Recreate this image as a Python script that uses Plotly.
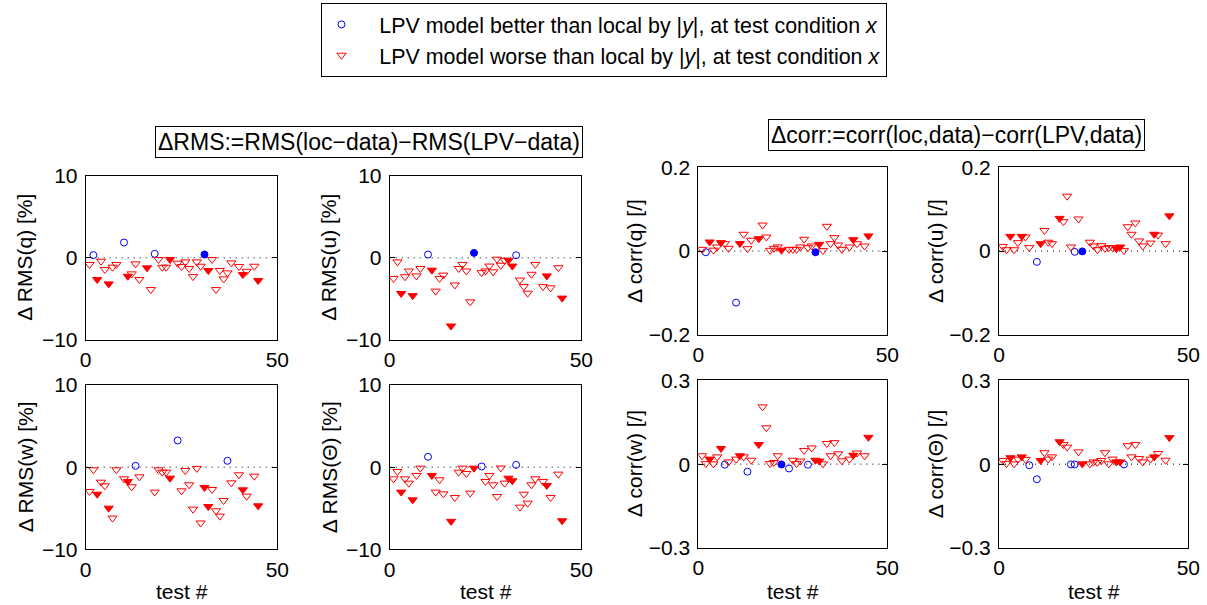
import plotly.graph_objects as go

# ---------------- data ----------------
tests = [1, 2, 3, 4, 5, 6, 7, 8, 10, 11, 12, 13, 14, 16, 17, 18, 19, 20, 21, 22,
         24, 25, 26, 27, 28, 29, 30, 31, 32, 33, 34, 35, 36, 37, 38, 40, 41, 42, 44, 45]
filled_tests = [3, 6, 11, 16, 22, 31, 32, 41, 45]

rms_q = [-0.81, 0.33, -2.64, -0.41, -1.42, -3.17, -1.14, -0.81, 1.87, -2.24, -1.95, -0.73, -2.64,
         -1.22, -3.86, 0.49, -0.2, -1.14, -1.14, -0.2, -0.65, -1.06, -0.49, -1.3, -2.28, -0.49,
         -1.02, 0.41, -1.54, -0.2, -3.86, -1.54, -2.56, -1.83, -0.61, -1.06, -2.03, -1.63, -1.02, -2.76]
rms_u = [-2.5, -0.49, -4.34, -2.3, -1.6, -4.6, -2.2, -1.3, 0.4, -1.5, -4.05, -2.5, -2.1,
         -8.3, -3.3, -1.3, -0.8, -1.6, -5.35, 0.6, -1.8, -1.6, -1.0, -1.7, -0.16, -0.9,
         -0.3, -0.3, -1.0, 0.32, -2.7, -3.5, -4.3, -2.0, -0.8, -3.5, -2.2, -3.65, -1.2, -4.9]
rms_w = [-2.96, -0.32, -3.29, -1.83, -2.27, -4.99, -6.2, -0.32, -1.42, -1.74, -2.39, 0.16, -1.18,
         None, None, -3.04, -0.32, -0.61, -0.61, -1.34, 3.25, -2.88, -0.41, -2.15, -5.11, -0.15,
         -6.8, -2.47, -4.79, -2.72, -5.31, -5.96, -4.06, 0.77, -1.91, -0.93, -2.76, -3.53, -1.1, -4.71]
rms_th = [-1.42, -0.53, -3.04, -1.42, -1.95, -3.98, -1.01, -0.12, 1.26, -1.01, -3.04, -1.54, -3.25,
          -6.6, -3.69, -0.61, -0.12, -0.77, -3.16, -0.12, 0.08, -1.74, -1.01, -2.15, -3.57, -0.1,
          -1.95, -1.34, -1.66, 0.28, -4.87, -3.29, -4.38, -2.15, -1.42, -1.74, -2.23, -3.69, -0.85, -6.53]

corr_q = [0.004, -0.003, 0.0215, 0.002, 0.0096, 0.02, 0.0175, 0.0064, -0.1235, 0.018, 0.04, 0.0056,
          0.0255, 0.0295, 0.062, 0.0335, 0.0016, 0.0064, 0.0096, 0.002, 0.004, 0.004, 0.004, 0.0096,
          0.028, 0.008, 0.012, -0.003, 0.016, 0.001, 0.059, 0.0175, 0.032, 0.0143, 0.004, 0.0096,
          0.027, 0.0175, 0.012, 0.036]
corr_u = [0.011, 0.003, 0.035, 0.003, 0.02, 0.035, 0.0335, 0.008, -0.026, 0.0175, 0.049, 0.021,
          0.0175, 0.078, 0.070, 0.131, 0.0096, -0.002, 0.0765, -0.001, 0.021, 0.012, 0.003, 0.0127,
          0.0064, 0.008, 0.008, 0.0056, 0.0096, 0.001, 0.058, 0.04, 0.067, 0.024, 0.012, 0.019,
          0.04, 0.038, 0.0175, 0.084]
corr_w = [0.030, 0.002, 0.018, 0.001, 0.026, 0.056, -0.002, 0.008, 0.018, 0.030, 0.026, -0.027,
          0.014, 0.070, 0.205, 0.130, 0.002, 0.006, 0.030, -0.001, -0.0155, 0.014, 0.002, 0.011,
          0.049, -0.002, 0.058, 0.014, 0.011, 0.001, 0.074, 0.030, 0.077, 0.037, 0.012, 0.018,
          0.032, 0.040, 0.030, 0.096]
corr_th = [0.013, 0.002, 0.023, 0.001, 0.018, 0.026, 0.017, -0.004, -0.054, 0.013, 0.041, 0.018,
           0.026, 0.080, 0.070, 0.061, -0.001, -0.001, 0.044, 0.001, 0.001, 0.008, 0.006, 0.013,
           0.041, 0.001, 0.018, 0.008, 0.008, -0.001, 0.066, 0.026, 0.070, 0.020, 0.008, 0.018,
           0.026, 0.038, 0.014, 0.095]

x_ticks = [0, 50]
x_range = [0, 50]

panels = [
    # (values, kind, ylabel, yrange, yticks)
    (rms_q, "rms", "Δ RMS(q) [%]", [-10, 10], [-10, 0, 10]),
    (rms_u, "rms", "Δ RMS(u) [%]", [-10, 10], [-10, 0, 10]),
    (rms_w, "rms", "Δ RMS(w) [%]", [-10, 10], [-10, 0, 10]),
    (rms_th, "rms", "Δ RMS(Θ) [%]", [-10, 10], [-10, 0, 10]),
    (corr_q, "corr", "Δ corr(q) [/]", [-0.2, 0.2], [-0.2, 0, 0.2]),
    (corr_u, "corr", "Δ corr(u) [/]", [-0.2, 0.2], [-0.2, 0, 0.2]),
    (corr_w, "corr", "Δ corr(w) [/]", [-0.3, 0.3], [-0.3, 0, 0.3]),
    (corr_th, "corr", "Δ corr(Θ) [/]", [-0.3, 0.3], [-0.3, 0, 0.3]),
]

# ---------------- layout geometry (pixels) ----------------
W, H = 1207, 605
# (left, right, top, bottom) of each axes box in pixels
boxes = [
    (85.7, 277.3, 175.7, 340.0),
    (389.7, 581.3, 175.7, 340.0),
    (85.7, 277.3, 385.0, 549.3),
    (389.7, 581.3, 385.0, 549.3),
    (698.3, 887.3, 167.3, 334.7),
    (999.0, 1188.3, 167.3, 334.7),
    (698.3, 887.3, 380.3, 548.0),
    (999.0, 1188.3, 380.3, 548.0),
]
ylabel_x = [25, 329, 25, 329, 634, 935, 634, 935]
bottom_row = [2, 3, 6, 7]

FONT = "Liberation Sans, Arial, Helvetica, sans-serif"
BLUE = "#0000ff"
RED = "#ff0000"
PAD = "\u00a0\u00a0\u00a0"
better_name = PAD + "LPV model better than local by |<i>y</i>|, at test condition <i>x</i>"
worse_name = PAD + "LPV model worse than local by |<i>y</i>|, at test condition <i>x</i>"

fig = go.Figure()
layout = dict(
    width=W, height=H, autosize=False,
    margin=dict(l=0, r=0, t=0, b=0, pad=0, autoexpand=False),
    paper_bgcolor="white", plot_bgcolor="white",
    font=dict(family=FONT, size=21, color="black"),
    showlegend=True,
)
annotations = []
shapes = []

for i, (vals, kind, ylab, yr, yt) in enumerate(panels):
    n = i + 1
    xa = "x" if n == 1 else f"x{n}"
    ya = "y" if n == 1 else f"y{n}"
    l, r, t, b = boxes[i]

    groups = {("b", False): ([], []), ("b", True): ([], []), ("w", False): ([], []), ("w", True): ([], [])}
    for tnum, v in zip(tests, vals):
        if v is None:
            continue
        better = v > 0 if kind == "rms" else v < 0
        key = ("b" if better else "w", tnum in filled_tests)
        groups[key][0].append(tnum)
        groups[key][1].append(v)

    specs = [
        (("b", False), "circle-open", BLUE, 7, better_name),
        (("b", True), "circle", BLUE, 7, None),
        (("w", False), "triangle-down-open", RED, 8, worse_name),
        (("w", True), "triangle-down", RED, 8, None),
    ]
    for key, sym, col, size, name in specs:
        gx, gy = groups[key]
        fig.add_trace(go.Scatter(
            x=gx, y=gy, mode="markers", xaxis=xa, yaxis=ya,
            marker=dict(symbol=sym, color=col, size=size, line=dict(color=col, width=1)),
            name=name if name else "",
            showlegend=(n == 1 and name is not None),
            hoverinfo="skip", cliponaxis=True,
        ))

    axis_common = dict(
        showline=True, mirror="ticks", linecolor="black", linewidth=1,
        ticks="inside", ticklen=5, tickcolor="black", showgrid=False, zeroline=False,
        automargin=False,
        tickfont=dict(family=FONT, size=21, color="black"),
    )
    layout["xaxis" if n == 1 else f"xaxis{n}"] = dict(
        domain=[l / W, r / W], range=x_range, tickvals=x_ticks,
        anchor=ya, ticklabelstandoff=1, **axis_common)
    layout["yaxis" if n == 1 else f"yaxis{n}"] = dict(
        domain=[1 - b / H, 1 - t / H], range=yr, tickvals=yt,
        anchor=xa, ticklabelstandoff=3, **axis_common)

    # dotted zero line
    shapes.append(dict(type="line", xref=xa, yref=ya, x0=x_range[0], x1=x_range[1], y0=0, y1=0,
                       line=dict(color="black", width=1, dash="1px,5px"), layer="below"))

    # y label
    annotations.append(dict(text=ylab, x=ylabel_x[i] / W, y=1 - (t + b) / 2 / H,
                            xref="paper", yref="paper", textangle=-90, showarrow=False,
                            xanchor="center", yanchor="middle",
                            font=dict(family=FONT, size=21, color="black")))
    if i in bottom_row:
        annotations.append(dict(text="test #", x=(l + r) / 2 / W, y=1 - 591 / H,
                                xref="paper", yref="paper", showarrow=False,
                                xanchor="center", yanchor="middle",
                                font=dict(family=FONT, size=21, color="black")))

# group titles
annotations.append(dict(text="ΔRMS:=RMS(loc−data)−RMS(LPV−data)", x=369 / W, y=1 - 141.5 / H,
                        xref="paper", yref="paper", showarrow=False, xanchor="center", yanchor="middle",
                        bordercolor="black", borderwidth=1, borderpad=2, bgcolor="white",
                        font=dict(family=FONT, size=23, color="black")))
annotations.append(dict(text="Δcorr:=corr(loc,data)−corr(LPV,data)", x=956 / W, y=1 - 135 / H,
                        xref="paper", yref="paper", showarrow=False, xanchor="center", yanchor="middle",
                        bordercolor="black", borderwidth=1, borderpad=2, bgcolor="white",
                        font=dict(family=FONT, size=23, color="black")))

layout["annotations"] = annotations
layout["shapes"] = shapes
layout["legend"] = dict(
    x=603.5 / W, y=1 - 3 / H, xanchor="center", yanchor="top",
    bordercolor="black", borderwidth=1, bgcolor="white",
    font=dict(family=FONT, size=21.4, color="black"),
    itemwidth=30, tracegroupgap=0,
)

fig.update_layout(**layout)
fig.write_html(
    "out.html",
    config={"displayModeBar": False},
    post_script="document.body.style.margin='0';document.body.style.padding='0';"
                "document.body.style.overflow='hidden';",
)
